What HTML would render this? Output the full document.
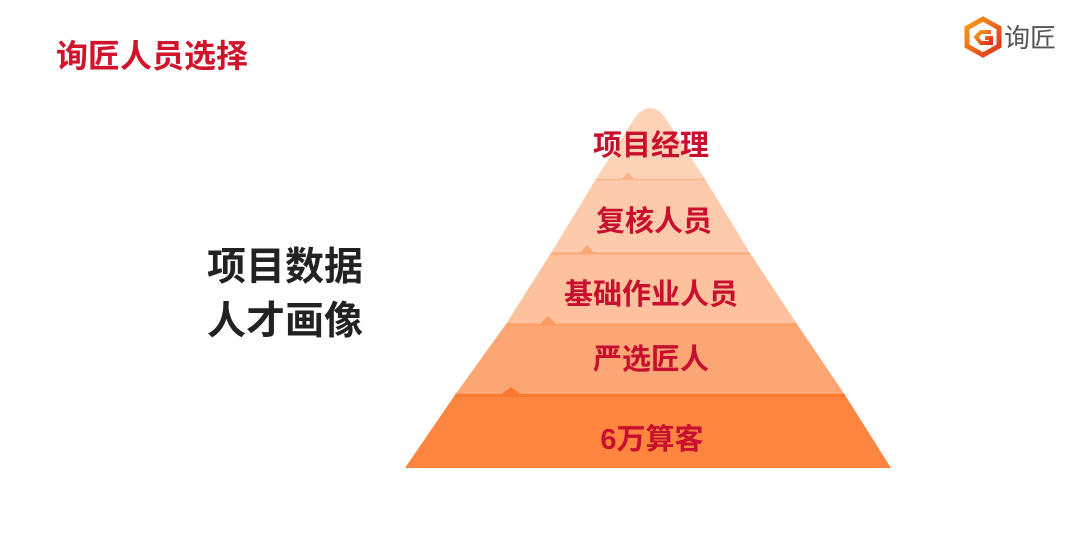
<!DOCTYPE html>
<html><head><meta charset="utf-8"><style>
body{margin:0;width:1080px;height:534px;background:#fff;overflow:hidden;position:relative;font-family:"Liberation Sans","Noto Sans CJK SC",sans-serif}
.t{position:absolute;white-space:nowrap;font-weight:bold}
.p{font-size:29px;color:#c8102e;line-height:34px;text-align:center;width:240px}
</style></head><body>
<div class="t" style="left:56px;top:37px;font-size:32px;color:#d0142c;line-height:38px">询匠人员选择</div>
<div class="t" style="left:207px;top:245px;font-size:39px;color:#222;line-height:46px">项目数据</div>
<div class="t" style="left:207px;top:299px;font-size:39px;color:#222;line-height:46px">人才画像</div>
<svg style="position:absolute;left:0;top:0" width="1080" height="534">
<defs><linearGradient id="lg" x1="0" y1="0" x2="1" y2="1"><stop offset="0" stop-color="#f7a21b"/><stop offset="1" stop-color="#e0301e"/></linearGradient></defs>
<path d="M983 19 L999 28 L999 46 L983 55 L967 46 L967 28 Z" fill="none" stroke="url(#lg)" stroke-width="5"/>
<path d="M991 32 L981 32 L976 37 L981 43 L991 43 L991 38 L985 38" fill="none" stroke="url(#lg)" stroke-width="4"/>
<text x="1004" y="47" font-size="26" fill="#555" font-family="Liberation Sans,Noto Sans CJK SC,sans-serif">询匠</text>
<path d="M405 468 L455 395 L845 395 L891 468 Z" fill="#fd853f"/>
<path d="M455 395 L506 324 L797 324 L845 395 Z" fill="#fca675"/>
<path d="M506 324 L551 253 L750 253 L797 324 Z" fill="#fdc29d"/>
<path d="M551 253 L596 179 L705 179 L750 253 Z" fill="#fdcbab"/>
<path d="M596 179 L636 116 Q650 100 664 116 L705 179 Z" fill="#fdd3b8"/>
<line x1="596" y1="179.5" x2="705" y2="179.5" stroke="#fbb48a" stroke-width="1.5"/>
<line x1="551" y1="253.5" x2="750" y2="253.5" stroke="#fca674" stroke-width="2"/>
<line x1="506" y1="324.5" x2="797" y2="324.5" stroke="#fc9a60" stroke-width="2"/>
<line x1="455" y1="395.5" x2="845" y2="395.5" stroke="#fb7a30" stroke-width="3"/>
<path d="M622 179 L628 172 L634 179Z" fill="#fbb48a"/>
<path d="M580 253 L587 245 L594 253Z" fill="#fca674"/>
<path d="M540 324 L548 316 L556 324Z" fill="#fc9a60"/>
<path d="M500 395 L511 387 L522 395Z" fill="#fb7a30"/>
</svg>
<div class="t p" style="left:531px;top:129px">项目经理</div>
<div class="t p" style="left:534px;top:205px">复核人员</div>
<div class="t p" style="left:531px;top:278px">基础作业人员</div>
<div class="t p" style="left:531px;top:343px">严选匠人</div>
<div class="t p" style="left:532px;top:423px">6万算客</div>
</body></html>
